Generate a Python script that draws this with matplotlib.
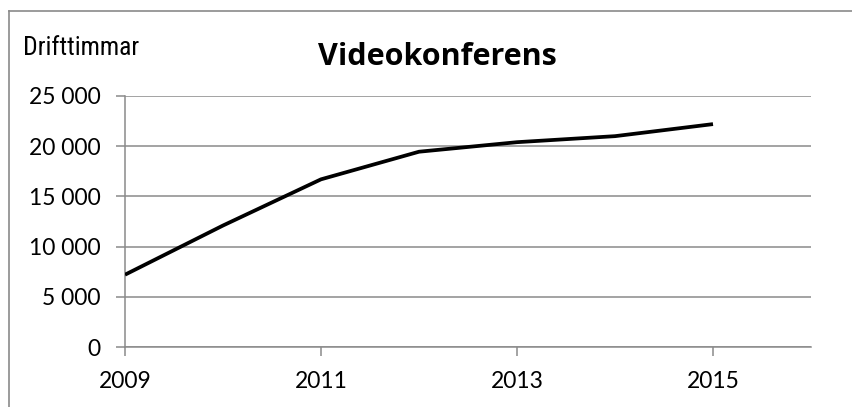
import matplotlib
matplotlib.use("Agg")
import matplotlib.pyplot as plt
from matplotlib.lines import Line2D
from matplotlib.ticker import FuncFormatter
from matplotlib import font_manager

# drift hours per year
years = [2009, 2010, 2011, 2012, 2013, 2014, 2015]
hours = [7200, 12100, 16700, 19450, 20400, 21000, 22200]

x_ticks = [2009, 2011, 2013, 2015]
y_ticks = [0, 5000, 10000, 15000, 20000, 25000]

title = "Videokonferens"
ylabel = "Drifttimmar"

W, H = 853, 407
GRID = "#8a8a8a"


def narrow_family():
    names = {f.name for f in font_manager.fontManager.ttflist}
    for n in ["Liberation Sans Narrow", "DejaVu Sans Condensed",
              "Roboto Condensed", "Open Sans Condensed"]:
        if n in names:
            return n
    return None


def main():
    fig = plt.figure(figsize=(W / 100, H / 100), dpi=100)
    fig.patch.set_facecolor("white")

    # outer chart frame (only left and top edges are in view)
    fx, fy = 8.5 / W, 1 - 10.5 / H
    fig.add_artist(Line2D([fx, fx], [0, fy], transform=fig.transFigure,
                          color=GRID, linewidth=1.2))
    fig.add_artist(Line2D([fx, 1], [fy, fy], transform=fig.transFigure,
                          color=GRID, linewidth=1.2))

    ax = fig.add_axes([125 / W, 1 - 347 / H, (811 - 125) / W, (347 - 96) / H])
    ax.plot(years, hours, color="black", linewidth=2.7, solid_capstyle="butt",
            zorder=3)

    ax.set_xlim(2009, 2016)
    ax.set_ylim(0, 25000)
    ax.set_xticks(x_ticks)
    ax.set_yticks(y_ticks)
    ax.yaxis.set_major_formatter(FuncFormatter(
        lambda v, p: f"{int(v):,}".replace(",", " ")))

    ax.grid(axis="y", color=GRID, linewidth=1.1)
    ax.set_axisbelow(True)
    for s in ["top", "right"]:
        ax.spines[s].set_visible(False)
    for s in ["left", "bottom"]:
        ax.spines[s].set_color(GRID)
        ax.spines[s].set_linewidth(1.1)

    ax.tick_params(axis="both", direction="out", length=6.5, width=1.1,
                   color=GRID, labelsize=16.5, pad=11)
    for lab in ax.get_xticklabels() + ax.get_yticklabels():
        lab.set_fontfamily(["Lato", "DejaVu Sans"])

    nf = narrow_family()
    if nf:
        fig.text(23 / W, 1 - 55 / H, ylabel, fontsize=18.5,
                 family=[nf, "DejaVu Sans"], ha="left", va="baseline")
    else:
        t = fig.text(23 / W, 1 - 55 / H, ylabel, fontsize=16,
                     family=["Lato", "DejaVu Sans"], ha="left", va="baseline")
        t.set_fontstretch("condensed")
    fig.text(437 / W, 1 - 65 / H, title, fontsize=22, fontweight="bold",
             family=["Open Sans", "DejaVu Sans"], ha="center", va="baseline")

    fig.savefig("out.png", dpi=100)


if __name__ == '__main__':
    main()
